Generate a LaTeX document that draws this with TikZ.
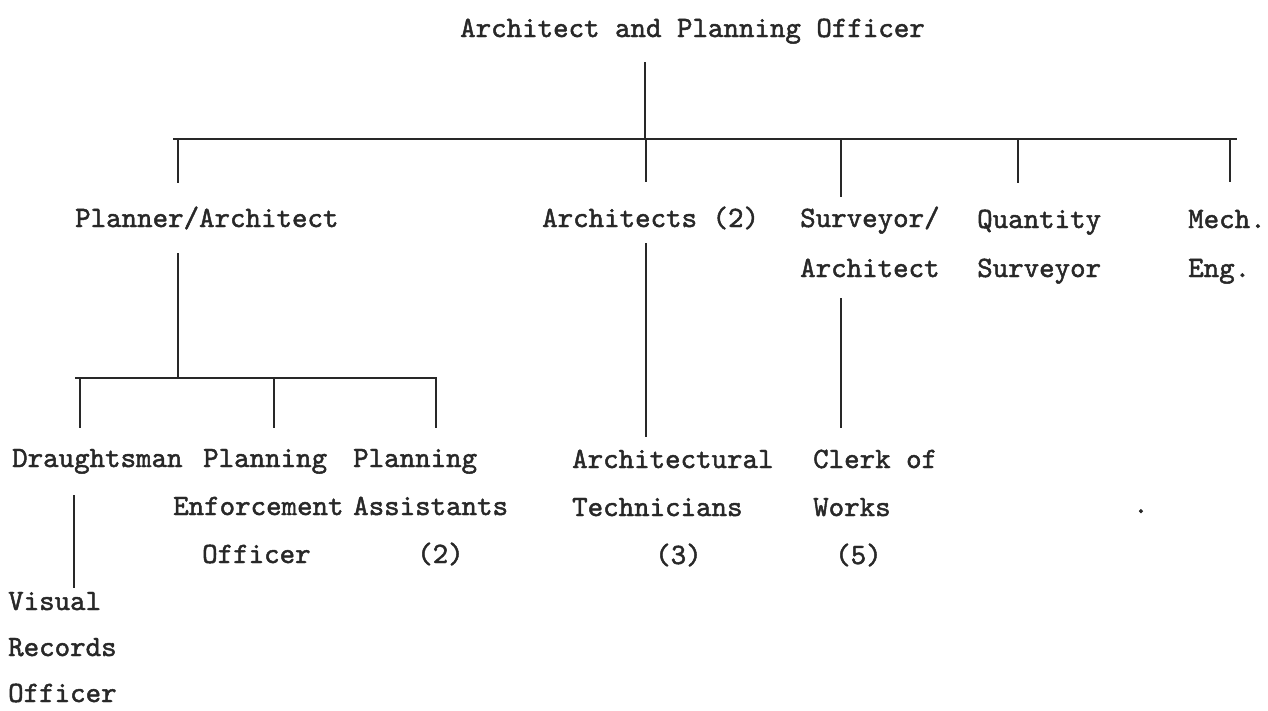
\documentclass[tikz,border=0pt]{standalone}
\usepackage{fontspec}
\setmonofont{lmmono10-regular.otf}[FakeBold=1.6]
\definecolor{ink}{RGB}{40,40,40}
\begin{document}
\begin{tikzpicture}[x=1pt,y=-1pt,
  lbl/.style={anchor=base west,inner sep=0pt,text=ink,
    font=\ttfamily\fontsize{29.5}{48}\selectfont},
  wire/.style={draw=ink,line width=1.6pt},
  heavy/.style={draw=ink,line width=2.6pt}]
\useasboundingbox (0,0) rectangle (1268,710);

% titles
\node[lbl] (apo) at (460,37) {Architect and Planning Officer};
\node[lbl] (planner) at (75,227) {Planner/Architect};
\node[lbl] (archs) at (542,227) {Architects (2)};
\node[lbl,font=\ttfamily\fontsize{29.5}{50}\selectfont] (surv) at (800,227)
  {\begin{tabular}[t]{@{}l@{}}Surveyor/\\Architect\end{tabular}};
\node[lbl,font=\ttfamily\fontsize{29.5}{49}\selectfont] (qs) at (977,228)
  {\begin{tabular}[t]{@{}l@{}}Quantity\\Surveyor\end{tabular}};
\node[lbl,font=\ttfamily\fontsize{29.5}{49}\selectfont] (mech) at (1188,228)
  {\begin{tabular}[t]{@{}l@{}}Mech.\\Eng.\end{tabular}};
\node[lbl] (draught) at (12,467) {Draughtsman};
\node[lbl] (enf) at (173,467)
  {\begin{tabular}[t]{@{}l@{}}\hspace*{30pt}Planning\\Enforcement\\\hspace*{29pt}Officer\end{tabular}};
\node[lbl] (assist) at (353,467)
  {\begin{tabular}[t]{@{}l@{}}Planning\\Assistants\\\hspace*{64pt}(2)\end{tabular}};
\node[lbl] (tech) at (572,468)
  {\begin{tabular}[t]{@{}l@{}}Architectural\\Technicians\\\hspace*{83pt}(3)\end{tabular}};
\node[lbl] (clerk) at (813,468)
  {\begin{tabular}[t]{@{}l@{}}Clerk of\\Works\\\hspace*{22pt}(5)\end{tabular}};
\node[lbl,font=\ttfamily\fontsize{29.5}{46}\selectfont] (visual) at (8,610)
  {\begin{tabular}[t]{@{}l@{}}Visual\\Records\\Officer\end{tabular}};
\node[lbl] (dot) at (1133,513) {.};

% main bus
\coordinate (apoDown) at (645,62);
\coordinate (busL) at (173,139);
\coordinate (busR) at (1237,139);
\coordinate (tapPlanner) at (178,139);
\coordinate (tapApo) at (645,139);
\coordinate (tapArchs) at (646,139);
\coordinate (tapSurv) at (841,139);
\coordinate (tapQs) at (1018,139);
\coordinate (tapMech) at (1230,139);
\coordinate (plannerUp) at (178,183);
\coordinate (archsUp) at (646,182);
\coordinate (survUp) at (841,197);
\coordinate (qsUp) at (1018,183);
\coordinate (mechUp) at (1230,182);

\draw[wire] (apoDown) -- (tapApo);
\draw[wire] (busL) -- (busR);
\draw[wire] (tapPlanner) -- (plannerUp);
\draw[wire] (tapArchs) -- (archsUp);
\draw[wire] (tapSurv) -- (survUp);
\draw[wire] (tapQs) -- (qsUp);
\draw[wire] (tapMech) -- (mechUp);

% planner's section
\coordinate (plannerDown) at (178,253);
\coordinate (subBusMid) at (178,378);
\coordinate (subBusL) at (75,378);
\coordinate (subBusR) at (437,378);
\coordinate (tapDraught) at (80,378);
\coordinate (tapEnf) at (274,378);
\coordinate (tapAssist) at (436,378);
\coordinate (draughtUp) at (80,428);
\coordinate (enfUp) at (274,428);
\coordinate (assistUp) at (436,428);

\draw[wire] (plannerDown) -- (subBusMid);
\draw[wire] (subBusL) -- (subBusR);
\draw[wire] (tapDraught) -- (draughtUp);
\draw[wire] (tapEnf) -- (enfUp);
\draw[wire] (tapAssist) -- (assistUp);

% draughtsman to visual records officer
\coordinate (draughtDown) at (74,495);
\coordinate (visualUp) at (74,588);
\draw[heavy] (draughtDown) -- (visualUp);

% architects and surveyor sections
\coordinate (archsDown) at (646,243);
\coordinate (techUp) at (646,437);
\draw[wire] (archsDown) -- (techUp);
\coordinate (survDown) at (841,298);
\coordinate (clerkUp) at (841,428);
\draw[wire] (survDown) -- (clerkUp);
\end{tikzpicture}
\end{document}
